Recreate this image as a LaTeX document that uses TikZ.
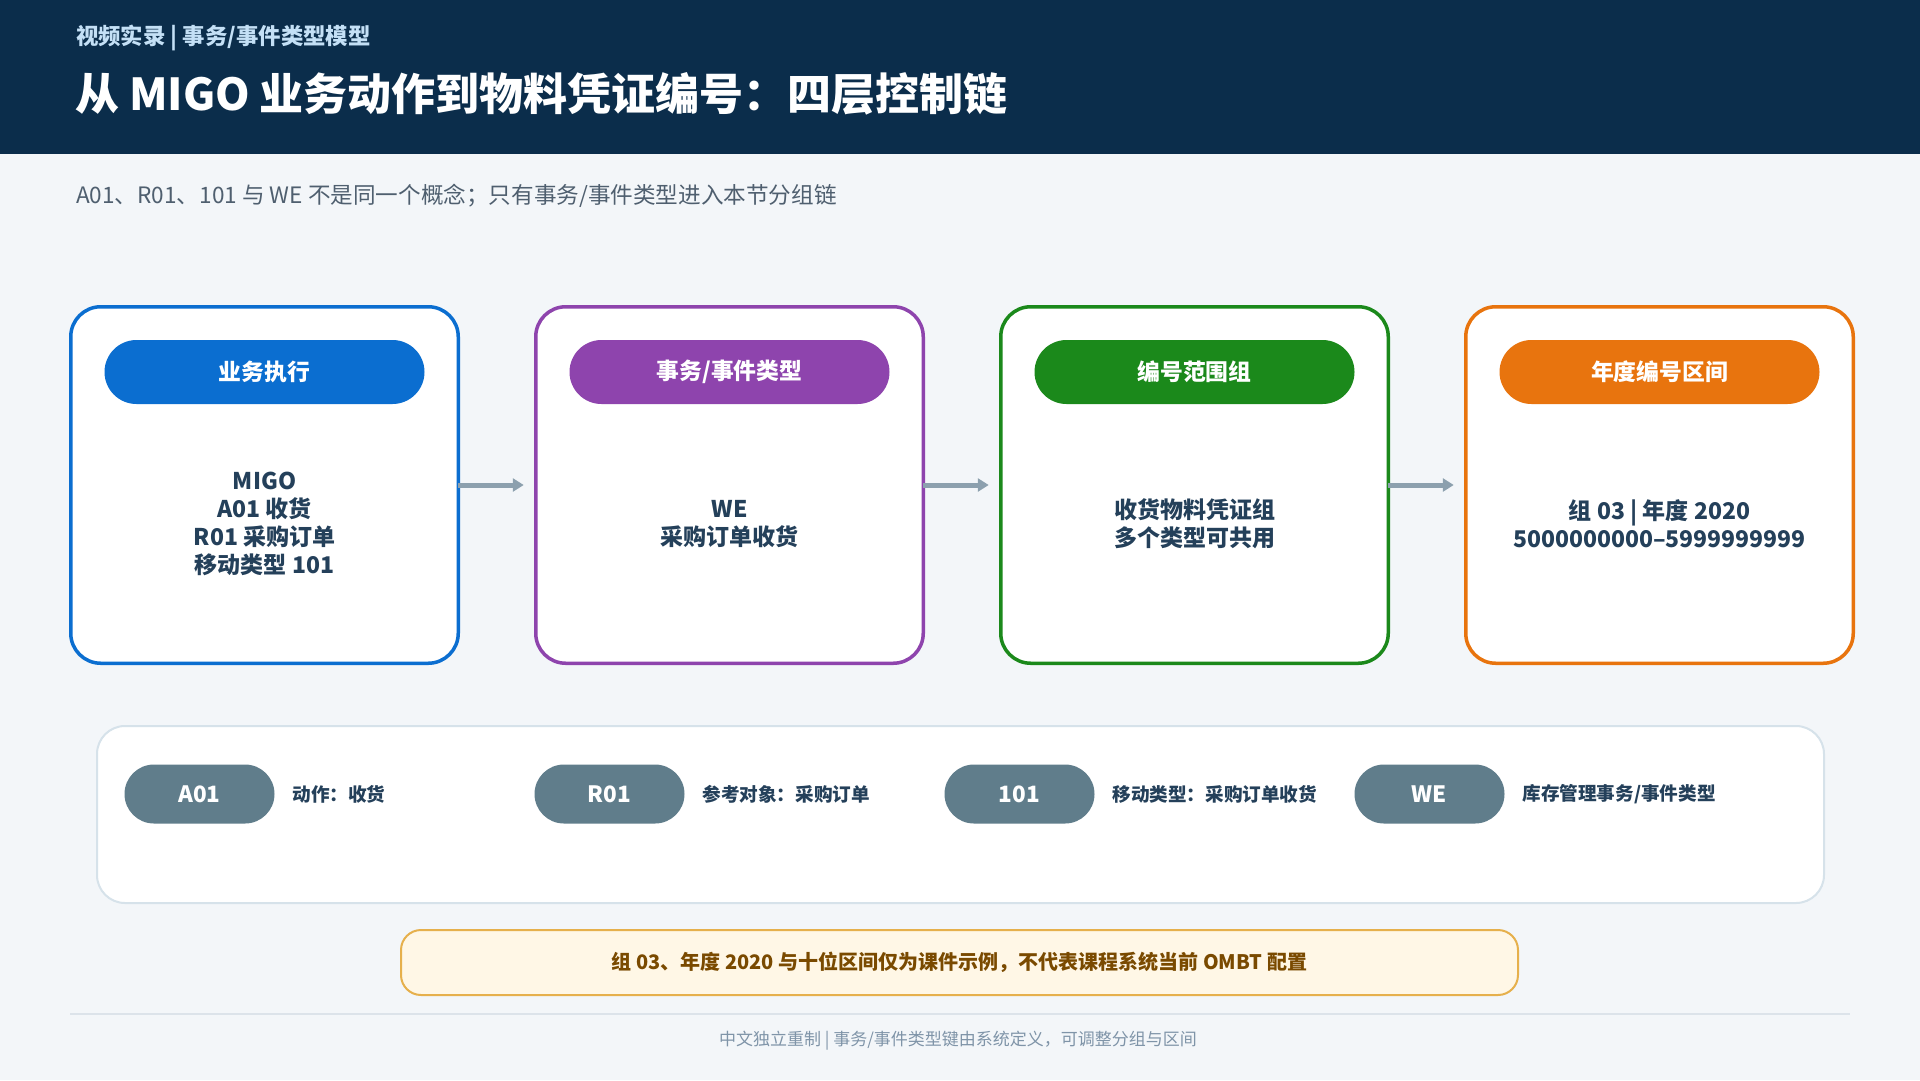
\documentclass[tikz,border=0pt]{standalone}
\usepackage{fontspec}
\setmainfont{Noto Sans CJK SC}
\usepackage{tikz}
\usetikzlibrary{arrows.meta, shapes.misc, positioning, calc}
\definecolor{headnavy}{HTML}{0B2D4B}
\definecolor{kickerblue}{HTML}{C4E0F6}
\definecolor{pagebg}{HTML}{F3F6F9}
\definecolor{leadgray}{HTML}{4F5F6F}
\definecolor{layerblue}{HTML}{0B6ED0}
\definecolor{layerpurple}{HTML}{8E44AD}
\definecolor{layergreen}{HTML}{1B891B}
\definecolor{layerorange}{HTML}{E8740E}
\definecolor{bodyslate}{HTML}{24405A}
\definecolor{arrowgray}{HTML}{8CA0AE}
\definecolor{tagslate}{HTML}{607D8B}
\definecolor{legendline}{HTML}{D6E2EA}
\definecolor{notefill}{HTML}{FFF7E6}
\definecolor{noteline}{HTML}{E6B04C}
\definecolor{notebrown}{HTML}{7A4A00}
\definecolor{sepgray}{HTML}{DCE3EA}
\definecolor{footgray}{HTML}{7F94A8}

\begin{document}
\begin{tikzpicture}[x=1pt, y=-1pt,
  every node/.style={inner sep=0pt, outer sep=0pt},
  card/.style={draw, line width=3.5pt, fill=white, rounded corners=30pt,
               minimum width=387.5pt, minimum height=356.5pt},
  headpill/.style={rounded rectangle, minimum width=320pt, minimum height=64pt,
                   text=white, font=\fontsize{22.8}{26}\selectfont\bfseries},
  bodytext/.style={align=center, text=bodyslate,
                   font=\fontsize{23}{28}\selectfont\bfseries},
  flowarrow/.style={-{Triangle[length=11pt, width=13pt]}, line width=5pt,
                    draw=arrowgray, shorten >=12pt},
  tagpill/.style={rounded rectangle, fill=tagslate, minimum width=150pt,
                  minimum height=59pt, text=white,
                  font=\fontsize{22.5}{26}\selectfont\bfseries},
  tagtext/.style={text=bodyslate, font=\fontsize{18.6}{23}\selectfont\bfseries}]

  %% page and header band
  \useasboundingbox (0,0) rectangle (1920,1080);
  \fill[pagebg] (0,0) rectangle (1920,1080);
  \fill[headnavy] (0,0) rectangle (1920,154);
  \node[anchor=west, text=kickerblue, font=\fontsize{22.4}{26}\selectfont\bfseries]
    (kicker) at (76,38) {视频实录 | 事务/事件类型模型};
  \node[anchor=west, text=white, font=\fontsize{44}{50}\selectfont\bfseries]
    (title) at (75,94) {从 MIGO 业务动作到物料凭证编号：四层控制链};
  \node[anchor=west, text=leadgray, font=\fontsize{22.6}{26}\selectfont]
    (lead) at (76,196)
    {A01、R01、101 与 WE 不是同一个概念；只有事务/事件类型进入本节分组链};

  %% four layer cards
  \foreach \i/\col/\head/\body in {
      0/layerblue/业务执行/{MIGO\\A01 收货\\R01 采购订单\\移动类型 101},
      1/layerpurple/{事务/事件类型}/{WE\\采购订单收货},
      2/layergreen/编号范围组/{收货物料凭证组\\多个类型可共用},
      3/layerorange/年度编号区间/{组 03 | 年度 2020\\5000000000–5999999999}} {
    \node[card, draw=\col] (card\i) at (264.5+465*\i, 485) {};
    \node[headpill, fill=\col] (head\i) at (264.5+465*\i, 372) {\head};
    \node[bodytext] (body\i) at (264.5+465*\i, 524) {\body};
  }

  %% chain arrows
  \foreach \i/\j in {0/1, 1/2, 2/3}
    \draw[flowarrow] (card\i.east) -- (card\j.west);

  %% legend of the four codes
  \node[draw=legendline, line width=2pt, fill=white, rounded corners=28pt,
        minimum width=1727pt, minimum height=177pt] (legend) at (960.5,814.5) {};
  \foreach \i/\tag/\desc in {0/A01/{动作：收货}, 1/R01/{参考对象：采购订单},
                             2/101/{移动类型：采购订单收货}, 3/WE/{库存管理事务/事件类型}} {
    \node[tagpill] (tag\i) at (199.5+410*\i, 794) {\tag};
    \node[tagtext, right=18pt of tag\i] (desc\i) {\desc};
  }

  %% caution note
  \node[draw=noteline, line width=2pt, fill=notefill, rounded corners=20pt,
        minimum width=1117pt, minimum height=65pt, text=notebrown,
        font=\fontsize{20}{24}\selectfont\bfseries] (note) at (959.5,962.5)
    {组 03、年度 2020 与十位区间仅为课件示例，不代表课程系统当前 OMBT 配置};

  %% footer
  \draw[sepgray, line width=2pt] (70,1014) -- (1850,1014);
  \node[text=footgray, font=\fontsize{17}{20}\selectfont] (footer) at (958,1041)
    {中文独立重制 | 事务/事件类型键由系统定义，可调整分组与区间};

\end{tikzpicture}
\end{document}
